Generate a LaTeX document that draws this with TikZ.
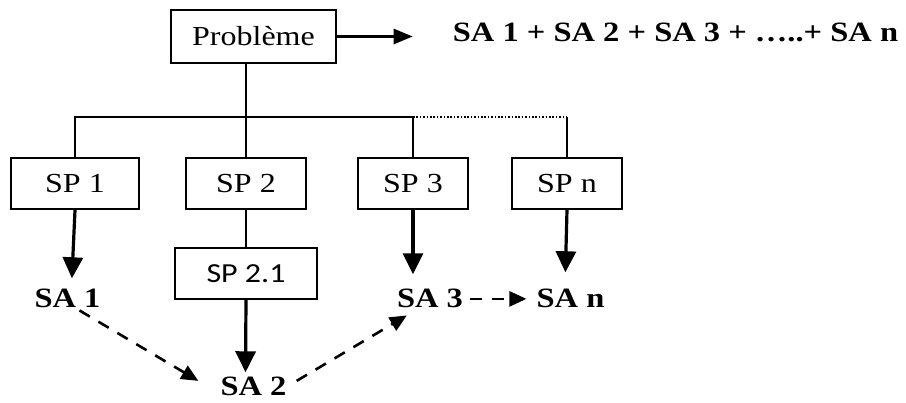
\documentclass[tikz,border=0pt]{standalone}
\usepackage{fontspec}
\setmainfont{Liberation Serif}
\newfontfamily\calib{Carlito}
\usetikzlibrary{arrows.meta}
\newcommand\sq[1]{\scalebox{1}[0.86]{#1}}
\begin{document}
\begin{tikzpicture}[x=1pt,y=-1pt,
  box/.style={draw, line width=2.2pt, inner sep=0pt, font=\fontsize{32}{38}\selectfont},
  res/.style={inner sep=2pt, font=\fontsize{32.5}{38}\selectfont\bfseries},
  link/.style={line width=2.6pt},
  arr/.style={line width=3.2pt, -{Triangle[length=21pt,width=20pt]}},
  tarr/.style={line width=2.6pt, -{Triangle[length=19pt,width=15pt]}},
  darr/.style={line width=2.6pt, dash pattern=on 12pt off 10pt, -{Triangle[length=17pt,width=15pt]}},
  dots/.style={line width=1.6pt, dash pattern=on 1.6pt off 1.8pt},
]
\useasboundingbox (0,0) rectangle (906,403);

% boxes
\node[box, minimum width=165pt, minimum height=53pt] (prob) at (253.5,36.5) {\sq{Problème}};
\node[box, minimum width=128pt, minimum height=51pt] (sp1) at (75,183.5) {\sq{SP 1}};
\node[box, minimum width=120pt, minimum height=51pt] (sp2) at (246,183.5) {\sq{SP 2}};
\node[box, minimum width=110pt, minimum height=51pt] (sp3) at (413,183.5) {\sq{SP 3}};
\node[box, minimum width=110pt, minimum height=51pt] (spn) at (567,183.5) {\sq{SP n}};
\node[box, minimum width=142pt, minimum height=51pt] (sp21) at (246,273.5) {\calib\sq{SP 2.1}};

% results
\node[res, anchor=base] (sum) at (675.5,42) {\sq{SA 1 + SA 2 + SA 3 + …..+ SA n}};
\node[res, anchor=base] (sa1) at (67.5,308) {\sq{SA 1}};
\node[res, anchor=base] (sa2) at (253.5,396) {\sq{SA 2}};
\node[res, anchor=base] (sa3) at (430,308) {\sq{SA 3}};
\node[res, anchor=base] (san) at (570.5,308) {\sq{SA n}};

\coordinate (j) at (246,117);

% tree lines
\draw[link] (prob.south -| j) -- (sp2.north);
\draw[link] (sp1.north) |- (sp3.north |- j) -- (sp3.north);
\draw[dots] (sp3.north |- j) -- (spn.north |- j);
\draw[link] (spn.north |- j) -- (spn.north);
\draw[link] (sp2.south) -- (sp21.north);

% arrows
\draw[tarr, shorten >=38pt] (prob.east) -- (prob.east -| sum.west);
\draw[arr, shorten >=9pt] (sp1.south) -- ([xshift=4pt]sa1.north);
\draw[arr, shorten >=3pt] (sp21.south) -- ([xshift=-8pt]sa2.north);
\draw[arr, shorten >=13pt] (sp3.south) -- (sp3.south |- sa3.north);
\draw[arr, shorten >=15pt] (spn.south) -- ([xshift=-2pt]spn.south |- san.north);

% dashed arrows
\draw[darr] ([xshift=12pt]sa1.south) -- ([shift={(-20pt,6pt)}]sa2.west);
\draw[darr] ([shift={(8pt,6pt)}]sa2.east) -- ([shift={(12pt,-5pt)}]sa3.south west);
\draw[darr, shorten <=5pt, shorten >=8pt] (sa3.east) -- (san.west);
\end{tikzpicture}
\end{document}
